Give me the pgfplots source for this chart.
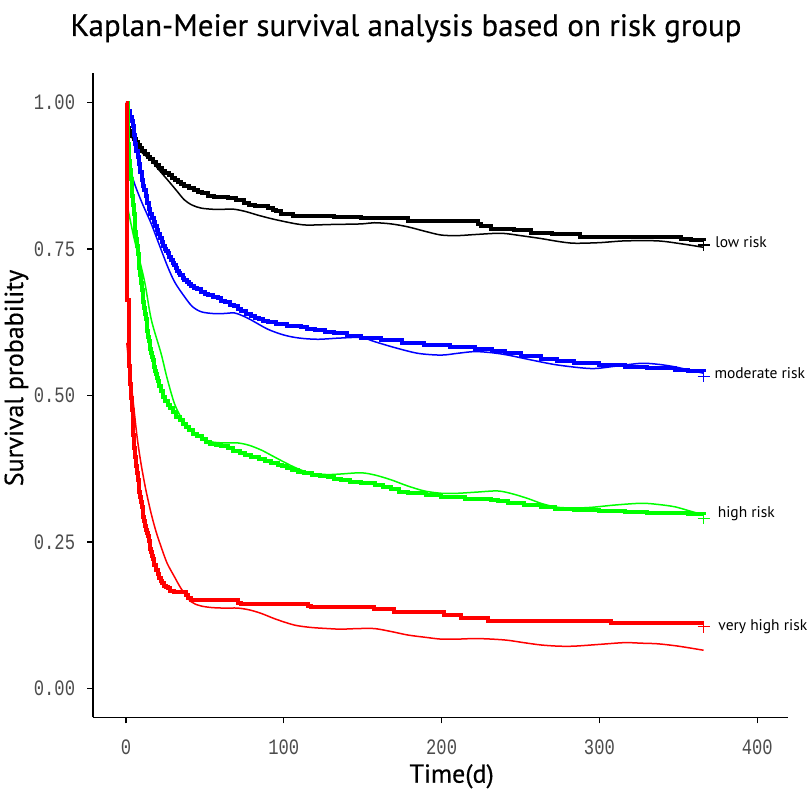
\documentclass[border=0pt]{standalone}
\usepackage{fontspec}
\usepackage{pgfplots}
\pgfplotsset{compat=1.18}
\newfontfamily\titlefont[FakeBold=0.4]{PT Sans}
\newfontfamily\labfont{PT Sans}
\newfontfamily\tickfont[FakeStretch=0.78]{Liberation Mono}
\definecolor{kmblack}{RGB}{0,0,0}
\definecolor{kmblue}{RGB}{0,0,255}
\definecolor{kmgreen}{RGB}{0,255,0}
\definecolor{kmred}{RGB}{255,0,0}
\begin{document}
\begin{tikzpicture}
\path[use as bounding box] (0,0) rectangle (812pt,-789pt);
\node[anchor=base, inner sep=0pt, font=\titlefont\fontsize{31}{31}\selectfont] at (406pt,-36pt) {Kaplan-Meier survival analysis based on risk group};
\node[anchor=base, inner sep=0pt, font=\titlefont\fontsize{26}{26}\selectfont] at (451.7pt,-782.7pt) {Time(d)};
\node[anchor=base, inner sep=0pt, rotate=90, font=\titlefont\fontsize{26}{26}\selectfont] at (23pt,-378pt) {Survival probability};
\begin{axis}[
  at={(93.3pt,-717.3pt)}, anchor=south west,
  scale only axis, width=694.7pt, height=643.9pt,
  xmin=-20.72, xmax=419.5, ymin=-0.0495, ymax=1.05,
  axis x line*=bottom, axis y line*=left,
  x axis line style={-}, y axis line style={-},
  axis line style={line width=1.6pt, black},
  tick align=outside, major tick length=6pt,
  tick style={line width=1.3pt, black},
  xtick={0,100,200,300,400}, xticklabels={0,100,200,300,400},
  ytick={0,0.25,0.5,0.75,1}, yticklabels={0.00,0.25,0.50,0.75,1.00},
  /pgf/number format/assume math mode=true,
  ticklabel style={font=\tickfont\fontsize{22}{22}\selectfont, text=black!70},
  xticklabel style={anchor=center, inner sep=0pt, yshift=-24.4pt},
  yticklabel style={anchor=east, inner sep=0pt, xshift=-12pt},
  clip=false,
]
% ---------------- low risk ----------------
\addplot[const plot, kmblack, line width=4pt] coordinates {
(0,1.000) (0.8,0.956) (2,0.952) (3,0.948) (4,0.943) (5,0.938) (6.2,0.933) (7.4,0.928) (8.6,0.923) (10,0.918) (11.8,0.913) (13.7,0.908) (15.3,0.903) (17,0.898) (19,0.893) (21,0.888) (23,0.884) (25,0.880) (27,0.876) (29,0.872) (31,0.868) (32.8,0.865) (35,0.861) (37,0.858) (40,0.855) (43.3,0.851) (45.5,0.848) (48,0.846) (51.8,0.841) (56,0.839) (64.5,0.837) (70,0.833) (75,0.828) (78,0.826) (82,0.824) (89.8,0.820) (93,0.817) (95,0.815) (98.3,0.810) (106,0.807) (115,0.806) (132,0.805) (149,0.803) (178.6,0.798) (223,0.792) (225,0.789) (231.4,0.785) (246,0.783) (256.8,0.778) (270,0.776) (282,0.775) (287.5,0.770) (352,0.767) (358,0.765) (366,0.764) (366,0.764)
};
\addplot[smooth, tension=0.5, kmblack, line width=1.5pt] coordinates {
(1,0.955) (5,0.935) (10,0.915) (15.9,0.902) (20,0.888) (26.4,0.868) (32,0.850) (37,0.834) (42,0.825) (47.6,0.820) (55,0.818) (62,0.818) (68.7,0.818) (76,0.814) (83.5,0.808) (92,0.802) (100.4,0.797) (108,0.793) (115,0.791) (130,0.792) (149,0.793) (157.4,0.795) (168,0.793) (178.6,0.788) (190,0.780) (199.7,0.774) (210,0.773) (222,0.775) (237.8,0.777) (250,0.773) (263,0.768) (274,0.763) (284,0.760) (300,0.761) (316,0.764) (337,0.764) (352,0.759) (366,0.753)
};
% ---------------- moderate risk ----------------
\addplot[const plot, kmblue, line width=4pt] coordinates {
(0,1.000) (1.5,0.985) (2.5,0.975) (3.5,0.968) (4.2,0.960) (5,0.945) (5.8,0.930) (6.6,0.918) (7.4,0.908) (8.2,0.895) (9,0.882) (10,0.868) (10.8,0.858) (11.6,0.851) (12.5,0.840) (13.5,0.829) (14.5,0.819) (15.5,0.810) (16.5,0.803) (17.5,0.797) (18.5,0.790) (19.5,0.783) (20.5,0.776) (21.5,0.769) (22.5,0.762) (23.5,0.756) (24.5,0.751) (25.5,0.747) (26.4,0.743) (27.5,0.737) (28.5,0.732) (29.5,0.727) (30.5,0.722) (31.5,0.717) (32.5,0.713) (33.5,0.709) (34.5,0.705) (36,0.700) (37,0.697) (38.5,0.693) (40,0.690) (41.5,0.687) (43,0.684) (45,0.681) (47.6,0.677) (50,0.674) (52,0.672) (55,0.669) (58.1,0.666) (60.5,0.662) (63,0.659) (66,0.655) (68.7,0.652) (71,0.648) (73,0.645) (76,0.640) (79.3,0.635) (82,0.632) (84,0.630) (87,0.628) (89.8,0.626) (95,0.622) (102,0.619) (111,0.617) (115,0.614) (120,0.612) (126,0.609) (132,0.606) (140,0.602) (149,0.598) (161.7,0.595) (175,0.590) (189,0.586) (205,0.583) (221,0.579) (232,0.576) (239.9,0.572) (250,0.568) (263,0.563) (273,0.559) (284,0.555) (300,0.552) (316,0.549) (330,0.547) (347.7,0.544) (356,0.542) (366,0.541) (366,0.541)
};
\addplot[smooth, tension=0.5, kmblue, line width=1.5pt] coordinates {
(1,0.905) (5,0.865) (10,0.830) (15.9,0.794) (20,0.765) (26.4,0.720) (31,0.693) (37,0.669) (42,0.652) (47.6,0.643) (55,0.640) (62,0.640) (68.7,0.641) (74,0.636) (79.3,0.629) (90,0.613) (100.4,0.603) (110,0.598) (121.6,0.596) (135,0.598) (149,0.599) (157.5,0.592) (170,0.582) (185,0.572) (199.7,0.569) (210,0.572) (221,0.575) (232,0.573) (242,0.569) (258,0.560) (273.7,0.552) (294.9,0.546) (310,0.550) (326.6,0.555) (338,0.553) (347.7,0.549) (356,0.544) (366,0.538)
};
% ---------------- high risk ----------------
\addplot[const plot, kmgreen, line width=4pt] coordinates {
(0,1.000) (1.2,0.930) (2,0.900) (2.5,0.885) (3,0.870) (3.5,0.855) (4,0.840) (4.5,0.825) (5,0.810) (5.5,0.795) (6,0.780) (6.5,0.767) (7,0.755) (7.5,0.742) (8,0.730) (8.5,0.717) (9,0.705) (9.5,0.692) (10,0.680) (10.5,0.670) (11,0.660) (11.5,0.650) (12,0.640) (12.5,0.630) (13,0.620) (13.5,0.610) (14,0.600) (14.5,0.593) (15,0.587) (15.5,0.580) (16,0.573) (16.5,0.566) (17,0.560) (17.5,0.554) (18,0.548) (18.5,0.542) (19,0.536) (19.5,0.530) (20,0.525) (21,0.516) (22,0.508) (23.6,0.498) (25,0.490) (26.5,0.484) (28,0.478) (30,0.471) (32,0.464) (34,0.458) (36,0.452) (38,0.446) (40,0.441) (42.7,0.435) (45,0.431) (48,0.425) (51,0.421) (53.5,0.418) (57,0.415) (60,0.413) (64.5,0.410) (68,0.406) (72,0.402) (75.5,0.398) (79.3,0.395) (84,0.391) (88,0.388) (92,0.385) (96.2,0.382) (99,0.379) (102,0.376) (105.5,0.373) (108.8,0.370) (113,0.367) (118,0.365) (123,0.363) (128,0.361) (132,0.358) (136,0.356) (142,0.353) (149,0.350) (157.5,0.347) (163,0.343) (168,0.340) (173,0.336) (178.6,0.333) (190,0.330) (199.7,0.327) (215,0.324) (231.4,0.322) (236,0.319) (242,0.316) (252,0.313) (263,0.310) (272,0.307) (284,0.304) (300,0.302) (316,0.301) (330,0.300) (347.7,0.299) (356,0.298) (366,0.297) (366,0.297)
};
\addplot[smooth, tension=0.5, kmgreen, line width=1.5pt] coordinates {
(1,0.822) (5,0.770) (11.6,0.697) (16,0.630) (22.2,0.572) (26,0.530) (30.6,0.487) (35,0.462) (39.1,0.447) (46,0.430) (53.9,0.421) (62,0.419) (70.8,0.419) (78,0.415) (85.6,0.407) (92,0.398) (100.4,0.386) (108,0.376) (117.3,0.367) (128,0.365) (136.3,0.366) (149,0.368) (158,0.364) (168,0.356) (178,0.346) (189,0.337) (200,0.333) (210,0.333) (222,0.335) (235.6,0.337) (245,0.332) (254.7,0.324) (264,0.315) (273.7,0.309) (285,0.308) (294.9,0.309) (310,0.313) (326.6,0.316) (337,0.314) (347.7,0.310) (357,0.303) (366,0.296)
};
% ---------------- very high risk ----------------
\addplot[const plot, kmred, line width=4pt] coordinates {
(0,1.000) (0.8,0.663) (1.6,0.583) (2,0.550) (2.5,0.520) (3.2,0.495) (3.7,0.475) (4.2,0.455) (4.7,0.432) (5.3,0.410) (5.8,0.395) (6.3,0.380) (6.8,0.368) (7.4,0.356) (8,0.345) (8.5,0.335) (9,0.326) (9.5,0.318) (10,0.309) (10.5,0.300) (11,0.292) (11.6,0.285) (12.1,0.277) (12.6,0.270) (13.2,0.265) (13.7,0.260) (14.3,0.252) (15,0.245) (15.5,0.238) (16,0.232) (16.5,0.226) (17,0.220) (17.5,0.215) (18,0.210) (19,0.202) (20,0.195) (21,0.189) (22,0.183) (23,0.179) (24.3,0.175) (25.5,0.173) (26.4,0.171) (28,0.167) (30.6,0.165) (38,0.160) (39.5,0.155) (41.2,0.150) (71,0.146) (73,0.144) (115.5,0.141) (117,0.139) (157,0.135) (170,0.130) (201.8,0.126) (212.4,0.120) (229.3,0.115) (307.5,0.112) (366,0.112) (366,0.112)
};
\addplot[smooth, tension=0.5, kmred, line width=1.5pt] coordinates {
(0.5,0.590) (2,0.550) (4.2,0.498) (7,0.430) (9.5,0.384) (12.5,0.340) (15.9,0.299) (19,0.268) (22.2,0.242) (26,0.214) (30.6,0.191) (35,0.170) (41.2,0.148) (47,0.141) (53.9,0.138) (62,0.137) (70.8,0.137) (78,0.134) (85.6,0.128) (95,0.118) (106.7,0.108) (117,0.104) (128,0.102) (136.3,0.101) (147,0.102) (157.5,0.102) (168,0.097) (178.6,0.091) (190,0.087) (199.7,0.084) (210,0.084) (221,0.085) (232,0.084) (242,0.082) (252,0.078) (263,0.074) (274,0.072) (284,0.072) (300,0.075) (316,0.078) (327,0.077) (337,0.076) (350,0.072) (366,0.065)
};
% censor marks
\addplot[only marks, mark=+, mark size=6pt, mark options={line width=1.1pt}, kmblack] coordinates {(366,0.757)};
\addplot[only marks, mark=+, mark size=6pt, mark options={line width=1.1pt}, kmblue] coordinates {(366,0.533)};
\addplot[only marks, mark=+, mark size=6pt, mark options={line width=1.1pt}, kmgreen] coordinates {(366,0.290)};
\addplot[only marks, mark=+, mark size=6pt, mark options={line width=1.1pt}, kmred] coordinates {(366,0.105)};
% group labels
\node[anchor=west, inner sep=0pt, font=\labfont\fontsize{15.5}{15.5}\selectfont] at (axis cs:373.3,0.7625) {low risk};
\node[anchor=west, inner sep=0pt, font=\labfont\fontsize{15.5}{15.5}\selectfont] at (axis cs:372.8,0.5377) {moderate risk};
\node[anchor=west, inner sep=0pt, font=\labfont\fontsize{15.5}{15.5}\selectfont] at (axis cs:374.9,0.2985) {high risk};
\node[anchor=west, inner sep=0pt, font=\labfont\fontsize{15.5}{15.5}\selectfont] at (axis cs:375.3,0.1047) {very high risk};
\end{axis}
\end{tikzpicture}
\end{document}
